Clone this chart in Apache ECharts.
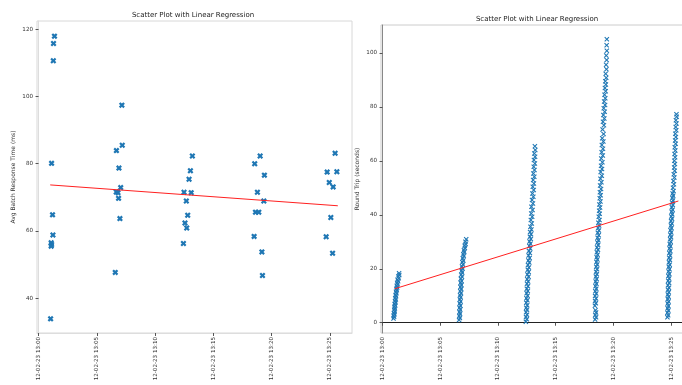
<!DOCTYPE html>
<html><head><meta charset="utf-8">
<script src="https://cdn.jsdelivr.net/npm/echarts@6/dist/echarts.min.js"></script>
<style>html,body{margin:0;padding:0;background:#fff}#c{width:682px;height:385px}</style>
</head><body><div id="c"></div>
<script>
// x values are seconds after 12-02-23 13:00
const xTickSeconds = [0, 300, 600, 900, 1200, 1500];
const xTickLabels = ['12-02-23 13:00', '12-02-23 13:05', '12-02-23 13:10', '12-02-23 13:15', '12-02-23 13:20', '12-02-23 13:25'];
const leftYTicks = [40, 60, 80, 100, 120];
const rightYTicks = [0, 20, 40, 60, 80, 100];

// Left: average batch response time (ms)
const batch1 = [[82,117.9],[77,115.7],[76,110.6],[67,80.1],[72,64.8],[74,58.8],[65,56.5],[67,56.0],[65,55.5],[62,33.9]];
const batch2 = [[429,97.4],[431,85.5],[401,83.9],[414,78.7],[423,72.9],[400,71.6],[409,71.4],[412,69.7],[419,63.7],[395,47.7]];
const batch3 = [[792,82.3],[782,77.9],[775,75.4],[749,71.5],[786,71.4],[761,68.9],[768,64.7],[754,62.4],[763,60.9],[746,56.3]];
const batch4 = [[1141,82.3],[1113,80.0],[1163,76.6],[1127,71.5],[1160,68.9],[1117,65.6],[1134,65.6],[1110,58.4],[1150,53.8],[1153,46.8]];
const batch5 = [[1527,83.1],[1486,77.5],[1536,77.6],[1497,74.4],[1517,73.1],[1505,64.0],[1481,58.3],[1514,53.4]];
const leftRegression = [[60,73.7],[1541,67.5]];

// Right: round trip (seconds)
const trip1 = [[57,1.6],[60,2.2],[58,2.7],[62,3.1],[59,3.6],[63,4.2],[61,4.8],[64,5.3],[62,5.9],[66,6.4],[63,6.9],[67,7.5],[65,8.1],[69,8.6],[66,9.2],[70,9.8],[68,10.3],[72,10.9],[70,11.5],[74,12.0],[72,12.6],[76,13.1],[74,13.7],[78,14.3],[76,14.8],[81,15.4],[78,15.9],[84,16.5],[82,17.1],[87,17.7],[86,18.3]];
const trip2 = [[398,1.0],[402,1.8],[399,2.5],[403,3.3],[400,4.0],[404,4.9],[400,5.6],[405,6.3],[401,7.1],[406,7.9],[402,8.6],[406,9.4],[403,10.2],[408,10.9],[404,11.7],[409,12.5],[405,13.2],[410,14.0],[406,14.8],[411,15.5],[407,16.3],[413,17.0],[409,17.8],[414,18.6],[411,19.3],[416,20.1],[413,20.8],[418,21.6],[415,22.4],[420,23.1],[417,23.9],[422,24.7],[420,25.4],[425,26.2],[423,26.9],[428,27.7],[427,28.5],[432,29.2],[431,30.0],[435,30.9]];
const trip3 = [[745,0.4],[750,1.3],[746,2.1],[751,3.0],[746,3.9],[751,4.8],[747,5.6],[752,6.5],[747,7.4],[753,8.3],[748,9.1],[754,10.0],[749,10.9],[755,11.8],[750,12.6],[756,13.5],[751,14.4],[757,15.3],[752,16.1],[759,17.0],[753,17.9],[760,18.8],[755,19.6],[761,20.5],[756,21.4],[763,22.3],[758,23.1],[765,24.0],[759,24.9],[766,25.8],[761,26.6],[768,27.5],[763,28.4],[769,29.3],[764,30.1],[771,31.0],[766,31.9],[772,32.8],[767,33.6],[774,34.5],[769,35.6],[776,36.8],[771,38.1],[778,39.3],[773,40.5],[780,41.8],[774,43.0],[782,44.2],[777,45.5],[784,46.7],[779,47.9],[786,49.2],[781,50.4],[787,51.6],[783,52.9],[789,54.1],[784,55.3],[790,56.6],[786,57.8],[792,59.0],[787,60.3],[793,61.5],[789,62.7],[794,64.0],[792,65.4]];
const trip4 = [[1105,1.2],[1110,2.0],[1106,2.9],[1110,3.8],[1107,4.6],[1104,6.3],[1109,7.2],[1105,8.1],[1110,9.0],[1105,9.9],[1111,10.8],[1106,11.7],[1111,12.6],[1107,13.5],[1112,14.4],[1108,15.3],[1113,16.2],[1109,17.1],[1114,18.0],[1110,18.9],[1115,19.8],[1111,20.7],[1116,21.6],[1112,22.5],[1117,23.4],[1113,24.3],[1118,25.2],[1114,26.1],[1120,27.0],[1115,27.9],[1121,28.8],[1117,29.7],[1122,30.6],[1118,31.5],[1124,32.4],[1119,33.3],[1125,34.2],[1121,35.1],[1126,36.0],[1122,37.0],[1128,38.1],[1124,39.3],[1129,40.4],[1126,41.5],[1131,42.7],[1127,43.8],[1133,44.9],[1129,46.1],[1134,47.2],[1130,48.3],
  [1136,49.5],[1131,50.8],[1138,52.0],[1133,53.3],[1140,54.5],[1134,55.8],[1141,57.0],[1136,58.2],[1143,59.5],[1137,60.8],[1145,62.0],[1139,63.2],[1146,64.5],[1140,65.8],[1148,67.1],[1142,68.3],[1149,69.9],[1144,71.6],[1151,73.2],[1146,74.5],[1153,75.7],[1148,77.0],[1155,78.2],[1150,79.5],[1157,80.7],[1152,82.0],[1158,83.2],[1154,84.5],[1160,85.8],[1156,87.0],[1161,88.3],[1158,89.5],[1163,90.8],[1160,92.2],[1164,93.9],[1162,95.6],[1165,97.3],[1163,99.0],[1166,100.8],[1165,102.8],[1166,105.0]];
const trip5 = [[1481,2.0],[1485,2.8],[1481,3.7],[1486,4.5],[1482,5.4],[1486,6.2],[1482,7.1],[1487,7.9],[1483,8.8],[1487,9.6],[1483,10.5],[1488,11.3],[1484,12.2],[1489,13.0],[1484,13.9],[1490,14.7],[1485,15.6],[1490,16.4],[1486,17.3],[1491,18.1],[1487,19.0],[1492,19.8],[1488,20.7],[1493,21.5],[1489,22.4],[1494,23.2],[1490,24.1],[1495,24.9],[1491,25.8],[1496,26.6],[1492,27.5],[1497,28.3],[1493,29.2],[1498,30.0],[1495,30.9],[1500,31.7],[1496,32.6],[1501,33.4],[1497,34.3],[1502,35.1],[1499,36.0],[1504,36.8],[1500,37.7],[1505,38.5],[1501,39.4],[1506,40.2],[1503,41.1],[1508,41.9],[1504,42.8],[1509,43.6],[1505,44.5],[1510,45.3],[1507,46.2],[1511,47.0],[1508,47.9],[1513,48.8],[1510,50.0],[1515,51.3],[1512,52.5],[1517,53.8],[1514,55.0],[1519,56.3],[1516,57.5],[1520,58.8],[1517,60.0],[1521,61.3],[1518,62.5],[1522,63.8],[1519,65.0],[1524,66.3],[1521,67.5],[1525,68.8],[1522,70.0],[1527,71.3],[1524,72.5],[1528,73.8],[1525,75.0],[1529,76.3],[1528,77.2]];
const rightRegression = [[64,12.6],[1538,45.1]];

const FONT = 'DejaVu Sans';
const BIG_X = 'path://M0,2.6L2.6,0L5,2.4L7.4,0L10,2.6L7.6,5L10,7.4L7.4,10L5,7.6L2.6,10L0,7.4L2.4,5Z';
const THIN_X = 'path://M0,1.5L1.5,0L5,3.5L8.5,0L10,1.5L6.5,5L10,8.5L8.5,10L5,6.5L1.5,10L0,8.5L3.5,5Z';
const blue = '#1f77b4';

function xLabel(v) {
  const i = xTickSeconds.indexOf(v);
  return i >= 0 ? xTickLabels[i] : '';
}
function xAxis(gi, lineColor) {
  return {
    type: 'value', gridIndex: gi, min: -8, max: 1614,
    name: 'Request Sent On', nameLocation: 'middle', nameGap: 50,
    nameTextStyle: {fontFamily: FONT, fontSize: 6, color: '#333'},
    splitLine: {show: false},
    axisLine: {show: true, lineStyle: {color: lineColor, width: 1}},
    axisTick: {show: true, length: 3, customValues: xTickSeconds, lineStyle: {color: '#555'}},
    axisLabel: {customValues: xTickSeconds, rotate: 90, margin: 4, formatter: xLabel,
      fontFamily: FONT, fontSize: 5.6, color: '#333'}
  };
}
function yAxis(gi, min, max, ticks, name, lineColor) {
  return {
    type: 'value', gridIndex: gi, min: min, max: max,
    name: name, nameLocation: 'middle', nameGap: 21, nameRotate: 90,
    nameTextStyle: {fontFamily: FONT, fontSize: 6, color: '#333'},
    splitLine: {show: false},
    axisLine: {show: true, lineStyle: {color: lineColor, width: 1}},
    axisTick: {show: true, length: 3, customValues: ticks, lineStyle: {color: '#555'}},
    axisLabel: {customValues: ticks, margin: 4, fontFamily: FONT, fontSize: 5.6, color: '#333'}
  };
}
function scatter(data, gi, symbol, size) {
  return {type: 'scatter', xAxisIndex: gi, yAxisIndex: gi, data: data, symbol: symbol,
    symbolSize: size, itemStyle: {color: blue, opacity: 1}, silent: true};
}
function reg(data, gi) {
  return {type: 'line', xAxisIndex: gi, yAxisIndex: gi, data: data, showSymbol: false,
    lineStyle: {color: '#ff2020', width: 1}, silent: true, z: 5};
}

const chart = echarts.init(document.getElementById('c'), null, {renderer: 'canvas'});
chart.setOption({
  animation: false,
  backgroundColor: '#fff',
  graphic: [
    {type: 'text', x: 193, y: 15, style: {text: 'Scatter Plot with Linear Regression', align: 'center', verticalAlign: 'middle', font: '7px "DejaVu Sans"', fill: '#222'}},
    {type: 'text', x: 537, y: 19, style: {text: 'Scatter Plot with Linear Regression', align: 'center', verticalAlign: 'middle', font: '7px "DejaVu Sans"', fill: '#222'}}
  ],
  grid: [
    {left: 37, top: 21, width: 315, height: 312, show: true, borderColor: '#d8d8d8', borderWidth: 1, outerBoundsMode: 'none', containLabel: false},
    {left: 381, top: 25, width: 312, height: 308, show: true, borderColor: '#cccccc', borderWidth: 1, outerBoundsMode: 'none', containLabel: false}
  ],
  xAxis: [xAxis(0, '#dddddd'), xAxis(1, '#222222')],
  yAxis: [
    yAxis(0, 29.7, 122.4, leftYTicks, 'Avg Batch Response Time (ms)', '#dddddd'),
    yAxis(1, -3.8, 110.3, rightYTicks, 'Round Trip (seconds)', '#888888')
  ],
  series: [
    scatter(batch1, 0, BIG_X, 6), scatter(batch2, 0, BIG_X, 6), scatter(batch3, 0, BIG_X, 6),
    scatter(batch4, 0, BIG_X, 6), scatter(batch5, 0, BIG_X, 6), reg(leftRegression, 0),
    scatter(trip1, 1, THIN_X, 5), scatter(trip2, 1, THIN_X, 5), scatter(trip3, 1, THIN_X, 5),
    scatter(trip4, 1, THIN_X, 5), scatter(trip5, 1, THIN_X, 5), reg(rightRegression, 1)
  ]
});
</script></body></html>
